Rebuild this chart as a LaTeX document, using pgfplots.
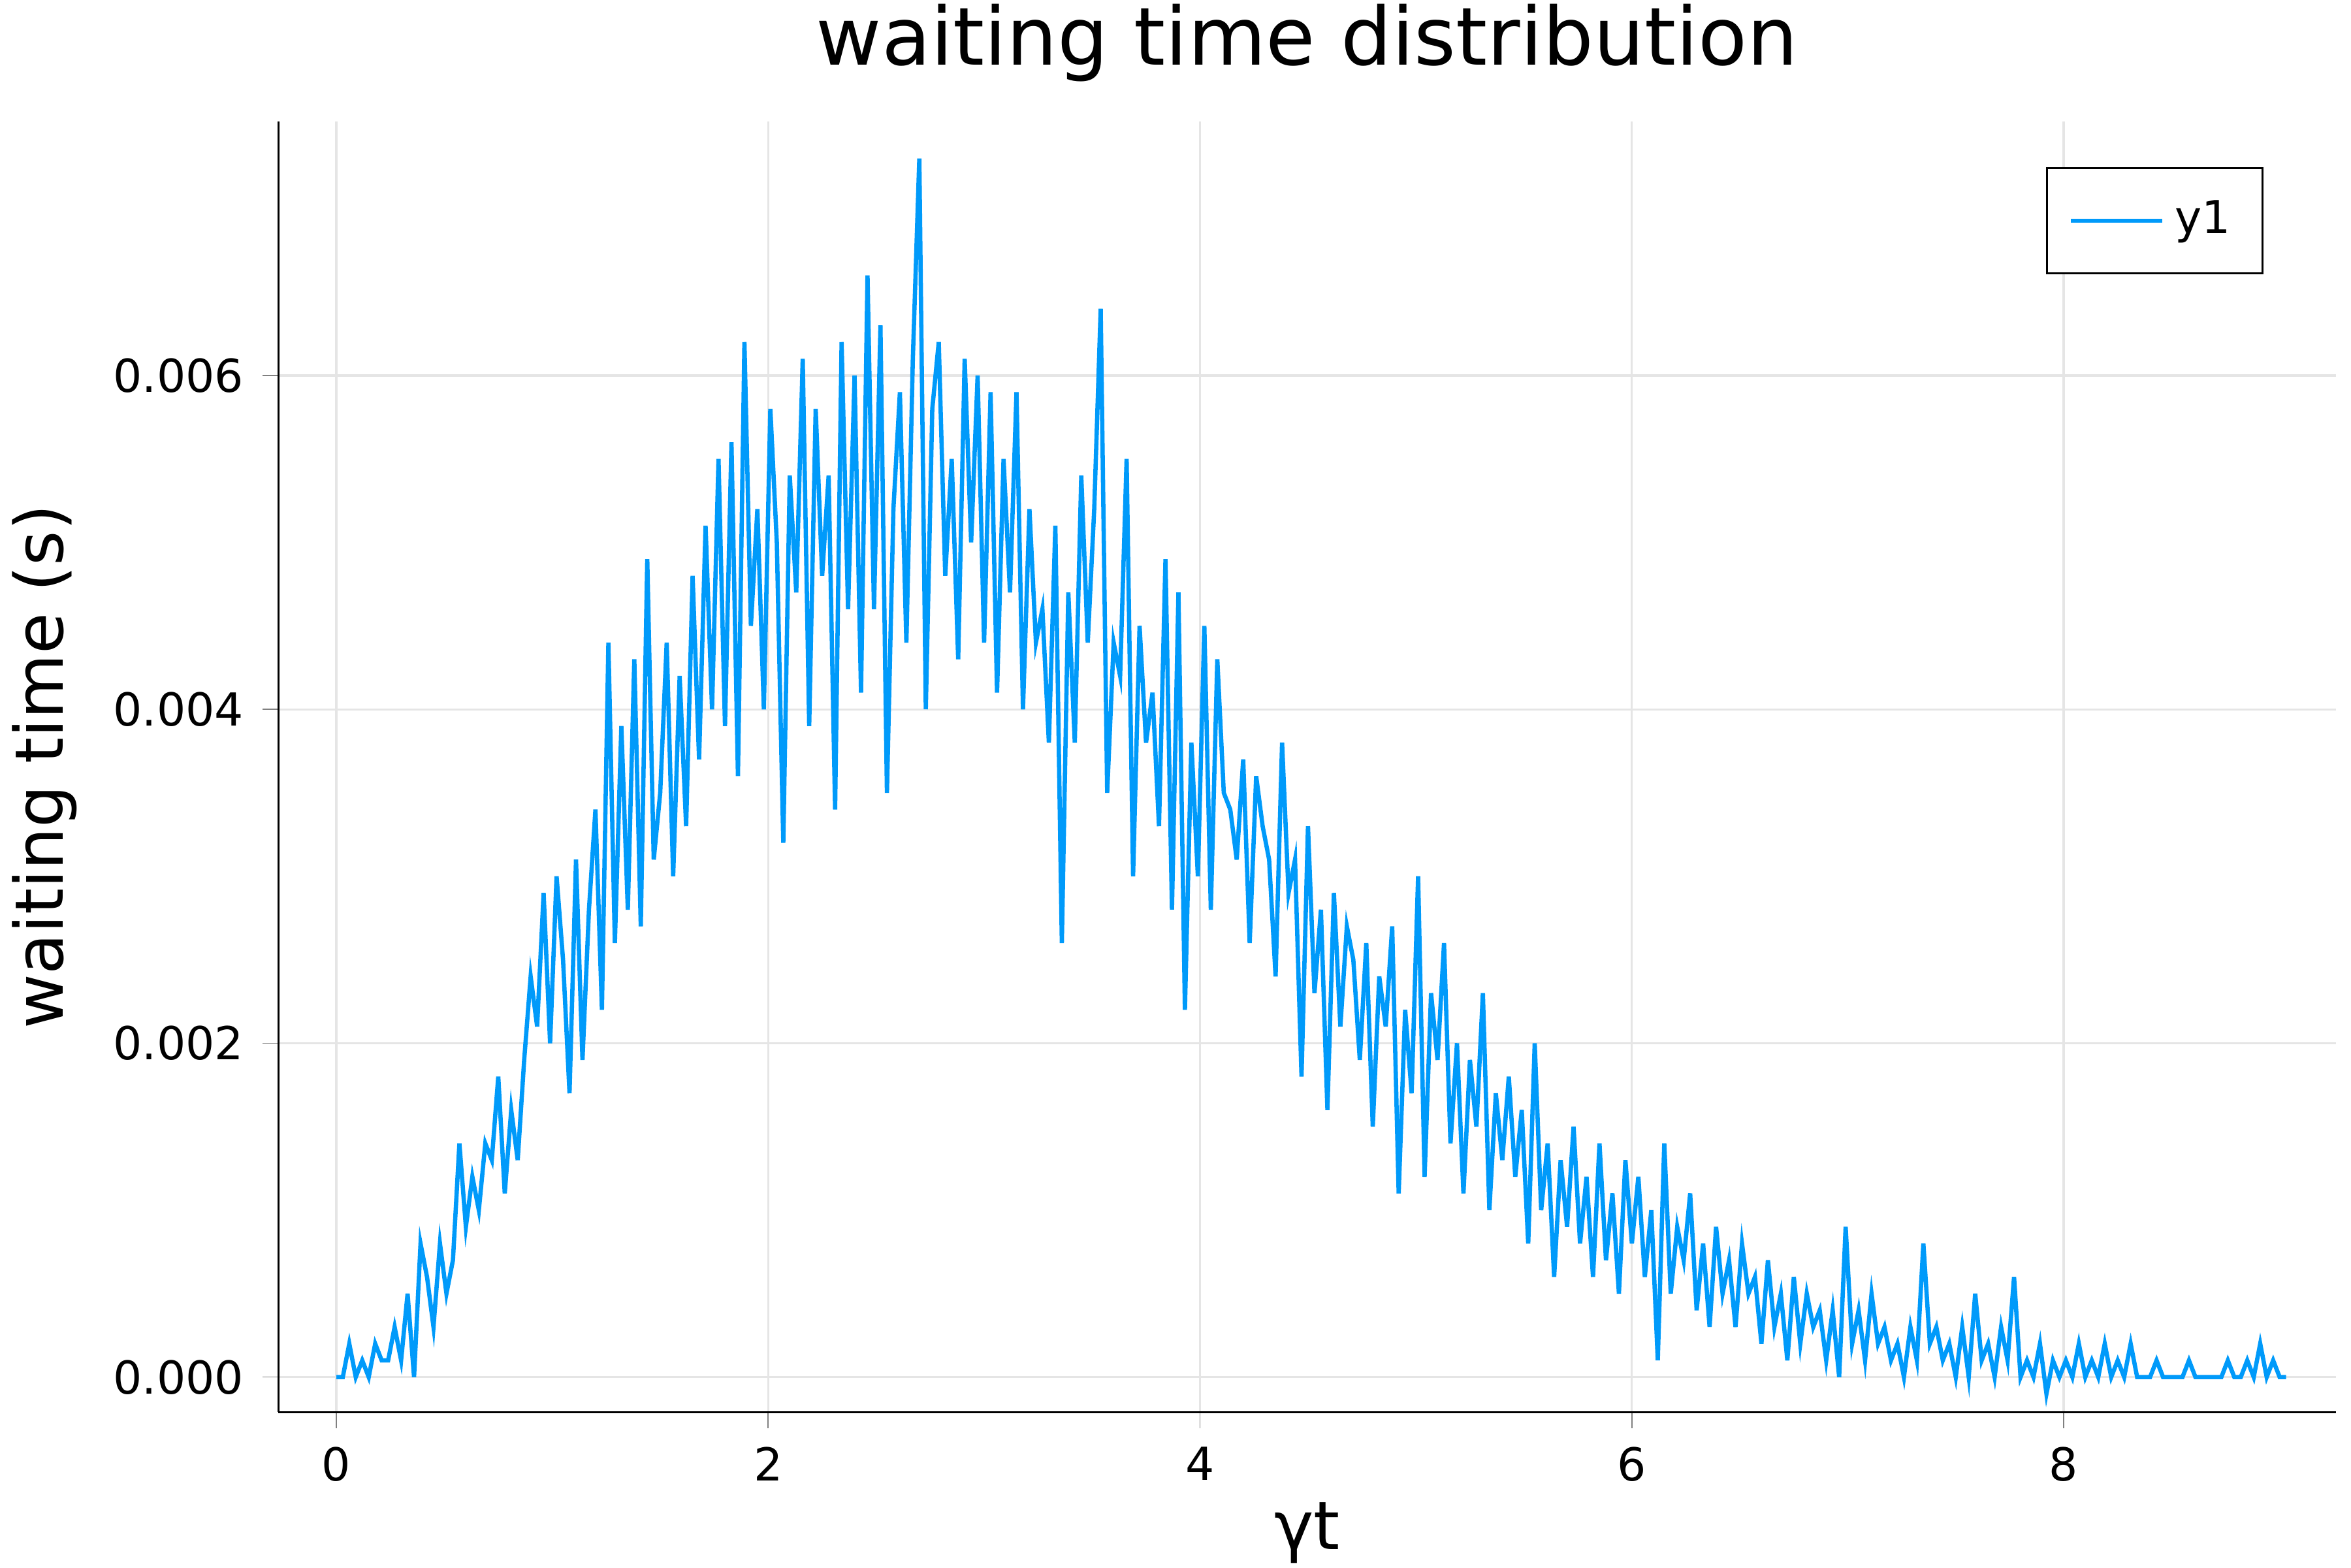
\documentclass[border=0pt]{standalone}
\usepackage{pgfplots}
\pgfplotsset{compat=1.18}
\usepackage{fontspec}
\setmainfont{DejaVu Sans}
\definecolor{jl}{HTML}{009AFA}
\begin{document}
\begin{tikzpicture}
\useasboundingbox (-1.83cm,-1.02cm) rectangle (13.62cm,9.28cm);
\begin{axis}[
  scale only axis, width=13.52cm, height=8.48cm,
  xmin=-0.268, xmax=9.26, ymin=-0.00021, ymax=0.00752,
  axis x line*=bottom, axis y line*=left,
  xtick={0,2,4,6,8}, ytick={0,0.002,0.004,0.006},
  yticklabel style={/pgf/number format/.cd,fixed,fixed zerofill,precision=3},
  scaled y ticks=false,
  /pgf/number format/assume math mode=true,
  tick label style={font=\fontsize{8.5}{10}\selectfont},
  grid=major, grid style={black!10},
  tick align=outside, major tick length=3pt,
  xlabel={\fontsize{12.5}{14}\selectfont γt},
  ylabel={\fontsize{12.5}{14}\selectfont waiting time (s)},
  xlabel style={yshift=3pt},
  title={\fontsize{15}{18}\selectfont waiting time distribution},
  title style={yshift=-2pt},
  legend style={at={(0.965,0.965)},anchor=north east,font=\fontsize{8.5}{10}\selectfont,draw=black,inner sep=4pt},
  legend cell align=left,
]
\addplot[jl, line width=0.8pt] table[x expr=\coordindex*0.03, y expr=\thisrowno{0}/10000, header=false] {
0
0
2
0
1
0
2
1
1
3
1
5
0
8
6
3
8
5
7
14
9
12
10
14
13
18
11
16
13
19
24
21
29
20
30
25
17
31
19
28
34
22
44
26
39
28
43
27
49
31
35
44
30
42
33
48
37
51
40
55
39
56
36
62
45
52
40
58
50
32
54
47
61
39
58
48
54
34
62
46
60
41
66
46
63
35
52
59
44
61
73
40
58
62
48
55
43
61
50
60
44
59
41
55
47
59
40
52
44
46
38
51
26
47
38
54
44
52
64
35
44
42
55
30
45
38
41
33
49
28
47
22
38
30
45
28
43
35
34
31
37
26
36
33
31
24
38
29
31
18
33
23
28
16
29
21
27
25
19
26
15
24
21
27
11
22
17
30
12
23
19
26
14
20
11
19
15
23
10
17
13
18
12
16
8
20
10
14
6
13
9
15
8
12
6
14
7
11
5
13
8
12
6
10
1
14
5
9
7
11
4
8
3
9
5
7
3
8
5
6
2
7
3
5
1
6
2
5
3
4
1
4
0
9
2
4
1
5
2
3
1
2
0
3
1
8
2
3
1
2
0
3
0
5
1
2
0
3
1
6
0
1
0
2
-1
1
0
1
0
2
0
1
0
2
0
1
0
2
0
0
0
1
0
0
0
0
1
0
0
0
0
0
1
0
0
1
0
2
0
1
0
0
};
\addlegendentry{y1}
\end{axis}
\end{tikzpicture}
\end{document}
